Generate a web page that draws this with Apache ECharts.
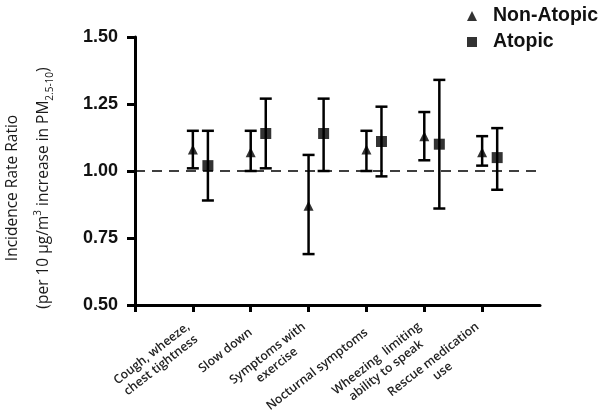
<!DOCTYPE html>
<html><head><meta charset="utf-8">
<script src="https://cdn.jsdelivr.net/npm/echarts@6/dist/echarts.min.js"></script>
<style>html,body{margin:0;padding:0;background:#fff}#c{width:600px;height:411px}</style>
</head><body><div id="c"></div>
<script>
const categories = ["Cough, wheeze,\nchest tightness","Slow down","Symptoms with\nexercise","Nocturnal symptoms","Wheezing  limiting\nability to speak","Rescue medication\nuse"];
const nonAtopicIRR  = [1.08, 1.07, 0.87, 1.08, 1.13, 1.07];
const nonAtopicLow  = [1.01, 1.00, 0.69, 1.00, 1.04, 1.02];
const nonAtopicHigh = [1.15, 1.15, 1.06, 1.15, 1.22, 1.13];
const atopicIRR  = [1.02, 1.14, 1.14, 1.11, 1.10, 1.05];
const atopicLow  = [0.89, 1.01, 1.00, 0.98, 0.86, 0.93];
const atopicHigh = [1.15, 1.27, 1.27, 1.24, 1.34, 1.16];
const yTicks = [0.50, 0.75, 1.00, 1.25, 1.50];

const OFFSET = 0.26;
const catPos = categories.map((c, i) => i + 1);

function errData(low, high, off) {
  return low.map((l, i) => [catPos[i] + off, l, high[i]]);
}
function ptData(v, off) {
  return v.map((y, i) => [catPos[i] + off, y]);
}
function renderErr(params, api) {
  const x = api.value(0);
  const lo = api.coord([x, api.value(1)]);
  const hi = api.coord([x, api.value(2)]);
  const hw = 6;
  const st = {stroke: '#000', lineWidth: 2.5};
  return {type: 'group', children: [
    {type: 'line', shape: {x1: lo[0], y1: lo[1], x2: hi[0], y2: hi[1]}, style: st},
    {type: 'line', shape: {x1: lo[0]-hw, y1: lo[1], x2: lo[0]+hw, y2: lo[1]}, style: st},
    {type: 'line', shape: {x1: hi[0]-hw, y1: hi[1], x2: hi[0]+hw, y2: hi[1]}, style: st}
  ]};
}

const chart = echarts.init(document.getElementById('c'));
chart.setOption({
  animation: false,
  grid: {left: 135, right: 60, top: 37, bottom: 106, containLabel: false, outerBoundsMode: 'none'},
  legend: {
    orient: 'vertical', left: 462, top: 1, itemGap: 6,
    itemWidth: 10, itemHeight: 10,
    textStyle: {fontFamily: 'Liberation Sans', fontWeight: 'bold', fontSize: 19.5, color: '#111', padding: [0,0,0,11]},
    data: [{name: 'Non-Atopic', icon: 'triangle'}, {name: 'Atopic', icon: 'rect'}]
  },
  xAxis: {
    type: 'value', min: 0, max: 7, interval: 1,
    splitLine: {show: false},
    axisLine: {lineStyle: {color: '#000', width: 3}},
    axisTick: {show: true, length: 7, lineStyle: {color: '#000', width: 3}, customValues: [0,1,2,3,4,5,6]},
    axisLabel: {
      customValues: catPos,
      formatter: v => (categories[Math.round(v) - 1] || '').split('\n').map(s => '{c|' + s + '}').join('\n'),
      rotate: 38, margin: 26,
      rich: {c: {align: 'center', fontFamily: 'Open Sans', fontWeight: 600, fontSize: 12.3, color: '#222', lineHeight: 15}}
    }
  },
  yAxis: {
    type: 'value', min: 0.5, max: 1.5, interval: 0.25,
    splitLine: {show: false},
    axisLine: {show: true, lineStyle: {color: '#000', width: 3}},
    axisTick: {show: true, length: 8, lineStyle: {color: '#000', width: 3}},
    axisLabel: {
      margin: 17, formatter: v => v.toFixed(2),
      fontFamily: 'Liberation Sans', fontWeight: 'bold', fontSize: 18, color: '#111'
    }
  },
  graphic: [
    {type: 'text', x: 13, y: 188, rotation: Math.PI/2,
     style: {text: 'Incidence Rate Ratio', align: 'center', verticalAlign: 'middle',
             fontFamily: 'Open Sans', fontSize: 15.5, fill: '#1a1a1a'}},
    {type: 'text', x: 44, y: 188, rotation: Math.PI/2,
     style: {text: '(per 10 μg/m{sup|3} increase in PM{sub|2.5-10})', align: 'center', verticalAlign: 'middle',
             fontFamily: 'Open Sans', fontSize: 15.5, fill: '#1a1a1a', lineHeight: 22,
             rich: {
               sup: {fontFamily: 'Open Sans', fontSize: 10, fill: '#1a1a1a', verticalAlign: 'top', lineHeight: 22, padding: [0,0,6,0]},
               sub: {fontFamily: 'Open Sans', fontSize: 10, fill: '#1a1a1a', verticalAlign: 'bottom', lineHeight: 22, padding: [6,0,0,0]}
             }}}
  ],
  series: [
    {name: 'Non-Atopic', type: 'scatter', symbol: 'triangle', symbolSize: 10,
     itemStyle: {color: '#000'}, data: ptData(nonAtopicIRR, 0), z: 5,
     markLine: {silent: true, symbol: 'none', label: {show: false},
       lineStyle: {color: '#000', type: [10, 7], width: 1.6},
       data: [{yAxis: 1.0}]}},
    {name: 'Atopic', type: 'scatter', symbol: 'rect', symbolSize: 11,
     itemStyle: {color: '#000'}, data: ptData(atopicIRR, OFFSET), z: 5},
    {name: 'errNon', type: 'custom', renderItem: renderErr, data: errData(nonAtopicLow, nonAtopicHigh, 0), z: 3},
    {name: 'errAt', type: 'custom', renderItem: renderErr, data: errData(atopicLow, atopicHigh, OFFSET), z: 3}
  ]
});
</script></body></html>
